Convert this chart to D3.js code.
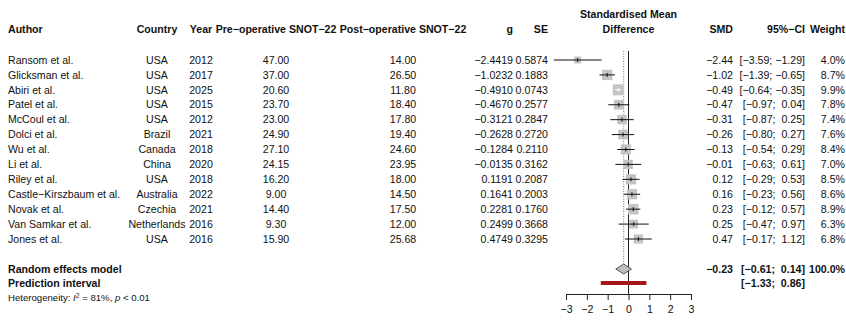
<!DOCTYPE html>
<html>
<head>
<meta charset="utf-8">
<script src="https://cdn.jsdelivr.net/npm/d3@7/dist/d3.min.js"></script>
<style>
  html, body { margin: 0; padding: 0; background: #fff; }
  svg text { font-family: "Liberation Sans", Arial, sans-serif; fill: #111; white-space: pre; }
</style>
</head>
<body>
<svg id="chart" width="846" height="320"></svg>
<script>
// ---------- data ----------
const authors   = ["Ransom et al.", "Glicksman et al.", "Abiri et al.", "Patel et al.", "McCoul et al.", "Dolci et al.", "Wu et al.", "Li et al.", "Riley et al.", "Castle\u2212Kirszbaum et al.", "Novak et al.", "Van Samkar et al.", "Jones et al."];
const countries = ["USA", "USA", "USA", "USA", "USA", "Brazil", "Canada", "China", "USA", "Australia", "Czechia", "Netherlands", "USA"];
const years     = [2012, 2017, 2025, 2015, 2012, 2021, 2018, 2020, 2018, 2022, 2021, 2016, 2016];
const preOp     = [47.00, 37.00, 20.60, 23.70, 23.00, 24.90, 27.10, 24.15, 16.20, 9.00, 14.40, 9.30, 15.90];
const postOp    = [14.00, 26.50, 11.80, 18.40, 17.80, 19.40, 24.60, 23.95, 18.00, 14.50, 17.50, 12.00, 25.68];
const gVals     = [-2.4419, -1.0232, -0.4910, -0.4670, -0.3121, -0.2628, -0.1284, -0.0135, 0.1191, 0.1641, 0.2281, 0.2499, 0.4749];
const seVals    = [0.5874, 0.1883, 0.0743, 0.2577, 0.2847, 0.2720, 0.2110, 0.3162, 0.2087, 0.2003, 0.1760, 0.3668, 0.3295];
const ciLower   = [-3.59, -1.39, -0.64, -0.97, -0.87, -0.80, -0.54, -0.63, -0.29, -0.23, -0.12, -0.47, -0.17];
const ciUpper   = [-1.29, -0.65, -0.35, 0.04, 0.25, 0.27, 0.29, 0.61, 0.53, 0.56, 0.57, 0.97, 1.12];
const weights   = [4.0, 8.7, 9.9, 7.8, 7.4, 7.6, 8.4, 7.0, 8.5, 8.6, 8.9, 6.3, 6.8];

const pooledSMD   = -0.23;
const pooledCI    = [-0.61, 0.14];
const predictCI   = [-1.33, 0.86];
const axisTicks   = [-3, -2, -1, 0, 1, 2, 3];
const headers     = ["Author", "Country", "Year", "Pre\u2212operative SNOT\u221222", "Post\u2212operative SNOT\u221222", "g", "SE", "SMD", "95%\u2212CI", "Weight"];

// ---------- layout ----------
const svg = d3.select("#chart");
const FS = 10.6;
const x = d3.scaleLinear().domain([-3, 3]).range([566, 691]);
const y = d3.scaleLinear().domain([0, authors.length - 1]).range([60, 239]);
const yHead = 29, yRE = 269, yPI = 283, yHet = 298, yAxis = 294;

const f4 = d3.format(".4f"), f2 = d3.format(".2f"), fs2 = d3.format(" .2f"), f1 = d3.format(".1f");
const ciText = (lo, hi) => "[" + fs2(lo) + "; " + fs2(hi) + "]";

function txt(g, xx, yy, s, anchor, bold, size) {
  return g.append("text").attr("x", xx).attr("y", yy).attr("dy", "0.35em")
    .attr("text-anchor", anchor || "start")
    .attr("font-size", size || FS)
    .attr("font-weight", bold ? "bold" : "normal")
    .text(s);
}

const cols = {
  author:  {x: 8,   a: "start"},
  country: {x: 157, a: "middle"},
  year:    {x: 201, a: "middle"},
  pre:     {x: 276, a: "middle"},
  post:    {x: 403, a: "middle"},
  g:       {x: 513, a: "end"},
  se:      {x: 548, a: "end"},
  smd:     {x: 733, a: "end"},
  ci:      {x: 805, a: "end"},
  w:       {x: 845, a: "end"}
};
const colKeys = ["author","country","year","pre","post","g","se","smd","ci","w"];

// headers
const gh = svg.append("g");
colKeys.forEach((k, i) => txt(gh, cols[k].x, yHead, headers[i], cols[k].a, true));
txt(gh, x(0), 14, "Standardised Mean", "middle", true);
txt(gh, x(0), yHead, "Difference", "middle", true);

// study rows
const gr = svg.append("g");
authors.forEach((a, i) => {
  const yy = y(i);
  txt(gr, cols.author.x, yy, a, "start");
  txt(gr, cols.country.x, yy, countries[i], "middle");
  txt(gr, cols.year.x, yy, String(years[i]), "middle");
  txt(gr, cols.pre.x, yy, f2(preOp[i]), "middle");
  txt(gr, cols.post.x, yy, f2(postOp[i]), "middle");
  txt(gr, cols.g.x, yy, f4(gVals[i]), "end");
  txt(gr, cols.se.x, yy, f4(seVals[i]), "end");
  txt(gr, cols.smd.x, yy, f2(gVals[i]), "end");
  txt(gr, cols.ci.x, yy, ciText(ciLower[i], ciUpper[i]), "end");
  txt(gr, cols.w.x, yy, f1(weights[i]) + "%", "end");
});

// summary rows
txt(gr, cols.author.x, yRE, "Random effects model", "start", true);
txt(gr, cols.author.x, yPI, "Prediction interval", "start", true);
txt(gr, cols.smd.x, yRE, f2(pooledSMD), "end", true);
txt(gr, cols.ci.x, yRE, ciText(pooledCI[0], pooledCI[1]), "end", true);
txt(gr, cols.w.x, yRE, "100.0%", "end", true);
txt(gr, cols.ci.x, yPI, ciText(predictCI[0], predictCI[1]), "end", true);

// heterogeneity
const het = gr.append("text").attr("x", 8).attr("y", yHet + 3.4).attr("font-size", 9.6);
het.append("tspan").text("Heterogeneity: ");
het.append("tspan").attr("font-style", "italic").text("I");
het.append("tspan").attr("font-size", 6.8).attr("dy", -3.5).text("2");
het.append("tspan").attr("dy", 3.5).text(" = 81%, ");
het.append("tspan").attr("font-style", "italic").text("p");
het.append("tspan").text(" < 0.01");

// ---------- forest plot ----------
const gp = svg.append("g");
// reference lines
gp.append("line").attr("x1", x(0)).attr("x2", x(0)).attr("y1", 51).attr("y2", yAxis)
  .attr("stroke", "#222").attr("stroke-width", 1);
gp.append("line").attr("x1", x(pooledSMD)).attr("x2", x(pooledSMD)).attr("y1", 51).attr("y2", yRE - 5)
  .attr("stroke", "#777").attr("stroke-width", 1).attr("stroke-dasharray", "1,1.5");

const side = w => 3.5 * Math.sqrt(w);
authors.forEach((a, i) => {
  const yy = y(i), cx = x(gVals[i]), s = side(weights[i]);
  gp.append("rect").attr("x", cx - s / 2).attr("y", yy - s / 2).attr("width", s).attr("height", s)
    .attr("fill", "#c4c4c4");
  const inside = (x(ciUpper[i]) - x(ciLower[i])) < s;
  const col = inside ? "#fff" : "#111";
  gp.append("line").attr("x1", x(ciLower[i])).attr("x2", x(ciUpper[i])).attr("y1", yy).attr("y2", yy)
    .attr("stroke", col).attr("stroke-width", 1);
  gp.append("line").attr("x1", cx).attr("x2", cx).attr("y1", yy - 2).attr("y2", yy + 2)
    .attr("stroke", col).attr("stroke-width", 1);
});

// diamond
const dh = 5;
gp.append("path")
  .attr("d", `M${x(pooledCI[0])},${yRE} L${x(pooledSMD)},${yRE - dh} L${x(pooledCI[1])},${yRE} L${x(pooledSMD)},${yRE + dh} Z`)
  .attr("fill", "#bebebe").attr("stroke", "#333").attr("stroke-width", 0.8);

// prediction interval
gp.append("rect").attr("x", x(predictCI[0])).attr("y", yPI - 2).attr("width", x(predictCI[1]) - x(predictCI[0])).attr("height", 4)
  .attr("fill", "#a51818");

// axis
const ax = gp.append("g").attr("transform", `translate(0,${yAxis})`)
  .call(d3.axisBottom(x).tickValues(axisTicks).tickFormat(d3.format("d")).tickSize(6).tickPadding(5));
ax.select(".domain").attr("stroke", "#222");
ax.selectAll(".tick line").attr("stroke", "#222");
ax.selectAll(".tick text").attr("font-size", FS).attr("font-family", "Liberation Sans, Arial, sans-serif").attr("fill", "#111");
</script>
</body>
</html>
